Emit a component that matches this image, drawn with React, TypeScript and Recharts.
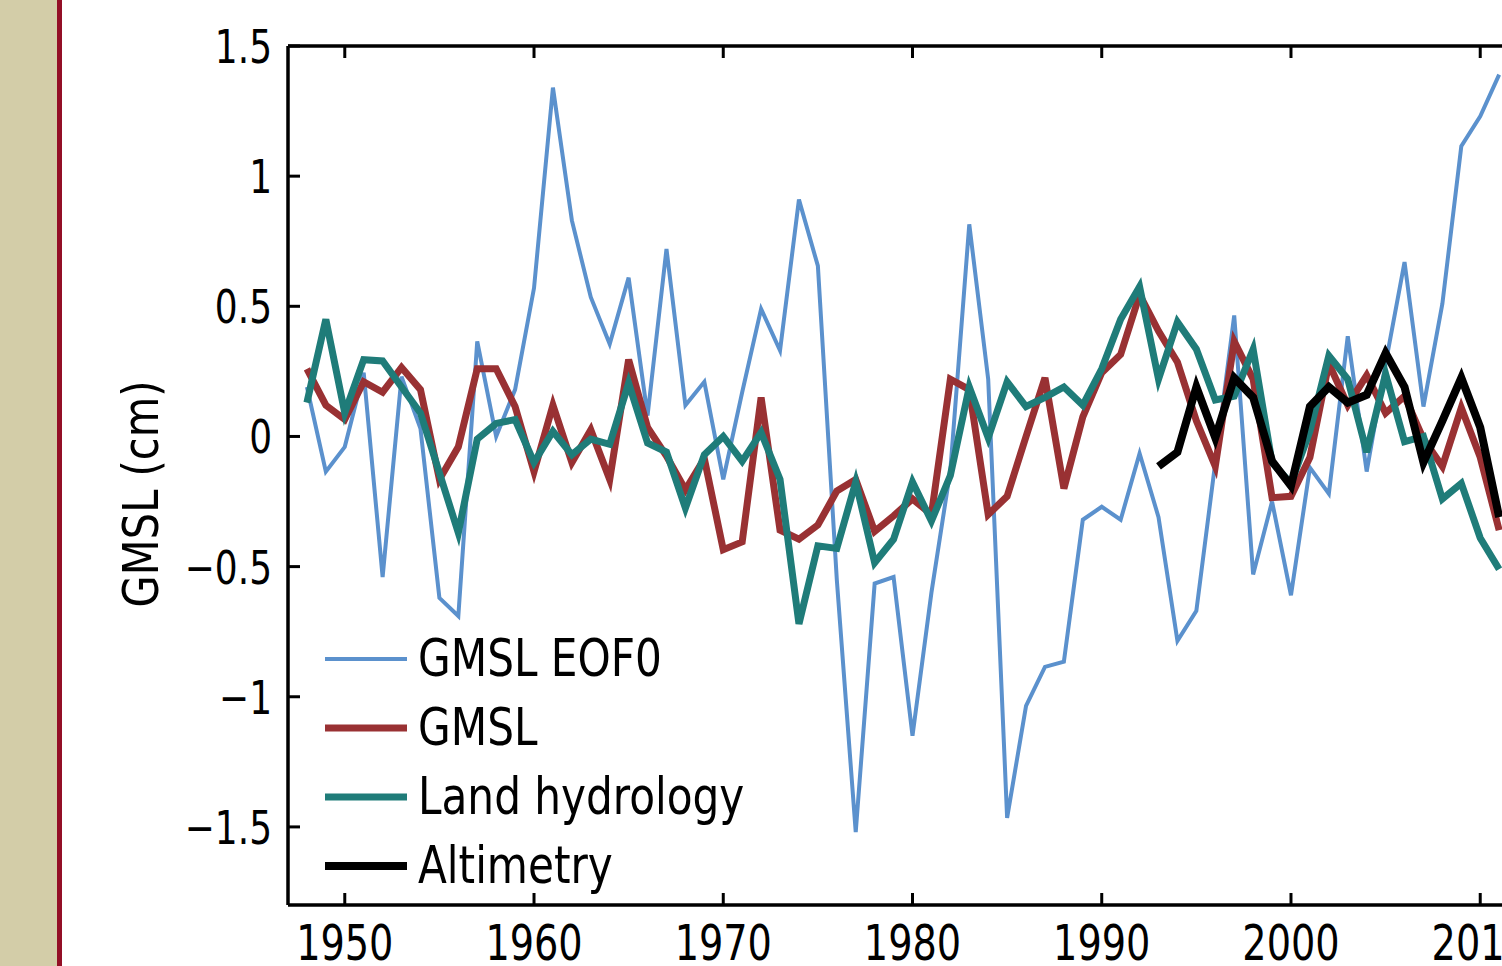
import React from 'react'
import { LineChart, Line, XAxis, YAxis, Legend } from 'recharts'

const FONT = "'Liberation Sans Narrow', 'DejaVu Sans Condensed', 'Liberation Sans', sans-serif"

// annual values, 1948-2011 (cm)
const years = [
  1948, 1949, 1950, 1951, 1952, 1953, 1954, 1955, 1956, 1957, 1958, 1959, 1960, 1961, 1962, 1963,
  1964, 1965, 1966, 1967, 1968, 1969, 1970, 1971, 1972, 1973, 1974, 1975, 1976, 1977, 1978, 1979,
  1980, 1981, 1982, 1983, 1984, 1985, 1986, 1987, 1988, 1989, 1990, 1991, 1992, 1993, 1994, 1995,
  1996, 1997, 1998, 1999, 2000, 2001, 2002, 2003, 2004, 2005, 2006, 2007, 2008, 2009, 2010, 2011,
]

const gmslEof0 = [
  0.19, -0.135, -0.04, 0.245, -0.54, 0.23, 0.03, -0.62, -0.69, 0.365, 0.0, 0.18, 0.57, 1.34, 0.83, 0.535,
  0.355, 0.61, 0.08, 0.72, 0.12, 0.21, -0.165, 0.17, 0.49, 0.33, 0.91, 0.655, -0.55, -1.52, -0.565, -0.54,
  -1.15, -0.6, -0.13, 0.815, 0.22, -1.465, -1.035, -0.885, -0.865, -0.32, -0.27, -0.32, -0.065, -0.31, -0.785, -0.67,
  -0.1, 0.465, -0.53, -0.25, -0.61, -0.12, -0.22, 0.385, -0.135, 0.28, 0.67, 0.115, 0.51, 1.115, 1.23, 1.39,
]

const gmsl = [
  0.26, 0.12, 0.065, 0.21, 0.17, 0.265, 0.18, -0.165, -0.04, 0.26, 0.26, 0.115, -0.135, 0.12, -0.1, 0.025,
  -0.165, 0.295, 0.035, -0.075, -0.205, -0.085, -0.435, -0.405, 0.15, -0.36, -0.395, -0.34, -0.21, -0.165, -0.365, -0.305,
  -0.24, -0.3, 0.22, 0.18, -0.3, -0.23, 0.0, 0.225, -0.2, 0.075, 0.245, 0.315, 0.545, 0.405, 0.285, 0.06,
  -0.115, 0.365, 0.22, -0.235, -0.23, -0.08, 0.28, 0.12, 0.235, 0.09, 0.155, -0.01, -0.115, 0.11, -0.08, -0.36,
]

const landHydrology = [
  0.13, 0.45, 0.09, 0.295, 0.29, 0.19, 0.09, -0.14, -0.37, -0.01, 0.05, 0.065, -0.1, 0.02, -0.07, -0.01,
  -0.03, 0.205, -0.025, -0.06, -0.275, -0.07, 0.0, -0.095, 0.015, -0.165, -0.72, -0.42, -0.43, -0.175, -0.485, -0.395,
  -0.175, -0.325, -0.15, 0.19, -0.005, 0.21, 0.115, 0.15, 0.19, 0.12, 0.26, 0.45, 0.575, 0.22, 0.44, 0.335,
  0.14, 0.155, 0.335, -0.1, -0.18, 0.02, 0.31, 0.22, -0.06, 0.24, -0.02, 0.0, -0.24, -0.18, -0.39, -0.51,
]

// altimetry only from 1993 on
const altimetryYears = [
  1993, 1994, 1995, 1996, 1997, 1998, 1999, 2000, 2001, 2002, 2003, 2004, 2005, 2006, 2007, 2008, 2009, 2010, 2011,
]
const altimetry = [
  -0.115, -0.06, 0.19, -0.005, 0.225, 0.15, -0.095, -0.19, 0.115, 0.19, 0.13, 0.16, 0.32, 0.19, -0.1, 0.06, 0.225, 0.035, -0.31,
]

const seriesNames = ['GMSL EOF0', 'GMSL', 'Land hydrology', 'Altimetry']

const xTicks = [1950, 1960, 1970, 1980, 1990, 2000, 2010]
const yTicks = [-1.5, -1, -0.5, 0, 0.5, 1, 1.5]

const rows = years.map((year, i) => {
  const k = altimetryYears.indexOf(year)
  return {
    year,
    eof0: gmslEof0[i],
    gmsl: gmsl[i],
    land: landHydrology[i],
    alt: k >= 0 ? altimetry[k] : null,
  }
})

const fmtY = (v: number) => (v < 0 ? '\u2212' + String(-v) : String(v))

// the original lettering is a narrow face, so squeeze it a little
function XTick({ x, y, payload }: any) {
  return (
    <text
      x={0}
      y={0}
      transform={`translate(${x},${y}) scale(0.85,1)`}
      dy="0.71em"
      textAnchor="middle"
      fontFamily={FONT}
      fontSize={50}
      fill="#000"
    >
      {payload.value}
    </text>
  )
}

function YTick({ x, y, payload }: any) {
  return (
    <text
      x={0}
      y={0}
      transform={`translate(${x},${y}) scale(0.85,1)`}
      dy="0.36em"
      textAnchor="end"
      fontFamily={FONT}
      fontSize={47}
      fill="#000"
    >
      {fmtY(payload.value)}
    </text>
  )
}

function LegendBox({ payload }: any) {
  const items = [...(payload || [])].sort(
    (a: any, b: any) => seriesNames.indexOf(a.value) - seriesNames.indexOf(b.value)
  )
  return (
    <div style={{ fontFamily: FONT }}>
      {items.map((entry: any) => (
        <div key={entry.value} style={{ display: 'flex', alignItems: 'center', height: 69 }}>
          <svg width={82} height={12} style={{ marginRight: 11, display: 'block' }}>
            <line
              x1={0}
              y1={6}
              x2={82}
              y2={6}
              stroke={entry.color}
              strokeWidth={entry.payload?.strokeWidth ?? 4}
            />
          </svg>
          <span
            style={{
              fontSize: 51,
              lineHeight: '69px',
              color: '#000',
              whiteSpace: 'nowrap',
              display: 'inline-block',
              transform: 'scaleX(0.92)',
              transformOrigin: 'left center',
            }}
          >
            {entry.value}
          </span>
        </div>
      ))}
    </div>
  )
}

const yLabel = () => (
  <text
    x={0}
    y={0}
    transform="translate(140 494) rotate(-90) scale(0.925 1)"
    textAnchor="middle"
    dominantBaseline="central"
    fontFamily={FONT}
    fontSize={50}
    fill="#000"
  >
    GMSL (cm)
  </text>
)

const axisStroke = { stroke: '#000', strokeWidth: 3.5 }
const tickStroke = { stroke: '#000', strokeWidth: 3 }

export default function App() {
  return (
    <div
      style={{
        position: 'fixed',
        left: 0,
        top: 0,
        width: 1502,
        height: 966,
        overflow: 'hidden',
        background: '#fff',
      }}
    >
      <div style={{ position: 'absolute', left: 0, top: 0, width: 57, height: 966, background: '#d3cda8' }} />
      <div style={{ position: 'absolute', left: 57, top: 0, width: 5, height: 966, background: '#930f26' }} />
      <div style={{ position: 'absolute', left: 0, top: 0 }}>
        <LineChart width={1560} height={966} data={rows} margin={{ top: 46, right: 23, bottom: 0, left: 0 }}>
          <XAxis
            dataKey="year"
            type="number"
            domain={[1947, 2013]}
            ticks={xTicks}
            height={61}
            axisLine={axisStroke}
            tickLine={tickStroke}
            tickSize={-12}
            tickMargin={31}
            tick={<XTick />}
            allowDataOverflow
          />
          <XAxis
            xAxisId="top"
            orientation="top"
            mirror
            dataKey="year"
            type="number"
            domain={[1947, 2013]}
            ticks={xTicks}
            height={1}
            axisLine={axisStroke}
            tickLine={tickStroke}
            tickSize={12}
            tick={<g />}
            allowDataOverflow
          />
          <YAxis
            type="number"
            domain={[-1.8, 1.5]}
            ticks={yTicks}
            width={288}
            axisLine={axisStroke}
            tickLine={tickStroke}
            tickSize={-12}
            tickMargin={28}
            tick={<YTick />}
            label={yLabel}
            allowDataOverflow
          />
          <Legend
            layout="vertical"
            align="center"
            verticalAlign="middle"
            content={LegendBox}
            wrapperStyle={{ left: 325, top: 624, width: 'auto', height: 'auto' }}
          />
          <Line
            name="GMSL EOF0"
            dataKey="eof0"
            type="linear"
            stroke="#5b91cd"
            strokeWidth={4}
            dot={false}
            activeDot={false}
            isAnimationActive={false}
          />
          <Line
            name="GMSL"
            dataKey="gmsl"
            type="linear"
            stroke="#993133"
            strokeWidth={7}
            dot={false}
            activeDot={false}
            isAnimationActive={false}
          />
          <Line
            name="Land hydrology"
            dataKey="land"
            type="linear"
            stroke="#1f7c79"
            strokeWidth={7}
            dot={false}
            activeDot={false}
            isAnimationActive={false}
          />
          <Line
            name="Altimetry"
            dataKey="alt"
            type="linear"
            stroke="#000"
            strokeWidth={8}
            dot={false}
            activeDot={false}
            isAnimationActive={false}
          />
        </LineChart>
      </div>
    </div>
  )
}
